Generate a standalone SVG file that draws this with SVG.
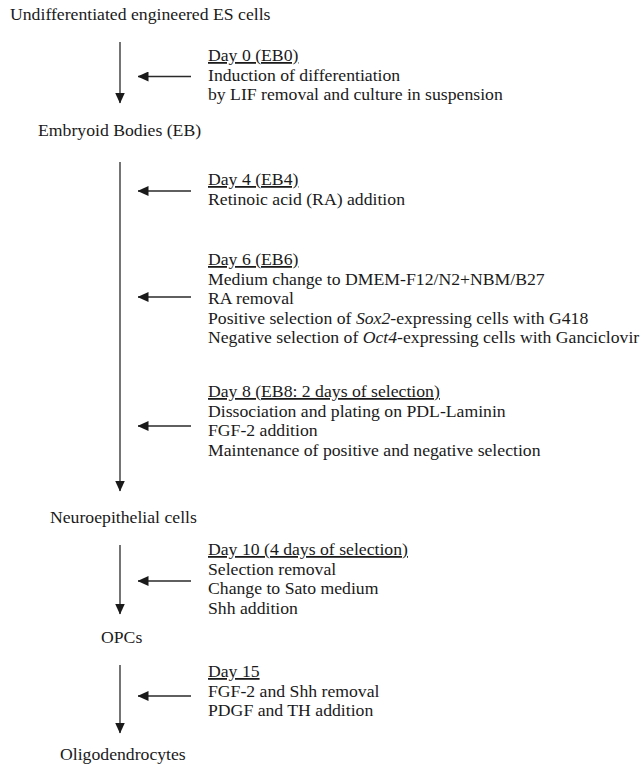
<svg xmlns="http://www.w3.org/2000/svg" width="644" height="765" viewBox="0 0 644 765">
<style>
text{font-family:"Liberation Serif","Times New Roman",serif;font-size:17.7px;fill:#1a1a1a}
.u{text-decoration:underline}
.i{font-style:italic}
.ln{stroke:#2a2a2a;stroke-width:1.3;fill:none}
</style>
<defs>
<marker id="ah" viewBox="0 0 11 10" refX="10.5" refY="5" markerWidth="11" markerHeight="10" markerUnits="userSpaceOnUse" orient="auto">
<path d="M0,0 L11,5 L0,10 Z" fill="#1a1a1a"/>
</marker>
</defs>
<rect width="644" height="765" fill="#ffffff"/>
<g id="stage-es"><text x="10" y="20">Undifferentiated engineered ES cells</text></g>
<g id="stage-eb"><text x="38" y="136">Embryoid Bodies (EB)</text></g>
<g id="stage-neuro"><text x="50" y="523">Neuroepithelial cells</text></g>
<g id="stage-opc"><text x="101" y="643">OPCs</text></g>
<g id="stage-oligo"><text x="60" y="760">Oligodendrocytes</text></g>
<g id="day0">
<text x="208" y="61" class="u">Day 0 (EB0)</text>
<text x="208" y="80.5">Induction of differentiation</text>
<text x="208" y="100">by LIF removal and culture in suspension</text>
</g>
<g id="day4">
<text x="208" y="185" class="u">Day 4 (EB4)</text>
<text x="208" y="204.5">Retinoic acid (RA) addition</text>
</g>
<g id="day6">
<text x="208" y="265" class="u">Day 6 (EB6)</text>
<text x="208" y="284.5">Medium change to DMEM-F12/N2+NBM/B27</text>
<text x="208" y="304">RA removal</text>
<text x="208" y="323.5">Positive selection of <tspan class="i">Sox2</tspan>-expressing cells with G418</text>
<text x="208" y="343">Negative selection of <tspan class="i">Oct4</tspan>-expressing cells with Ganciclovir</text>
</g>
<g id="day8">
<text x="208" y="397" class="u">Day 8 (EB8: 2 days of selection)</text>
<text x="208" y="416.5">Dissociation and plating on PDL-Laminin</text>
<text x="208" y="436">FGF-2 addition</text>
<text x="208" y="455.5">Maintenance of positive and negative selection</text>
</g>
<g id="day10">
<text x="208" y="555" class="u">Day 10 (4 days of selection)</text>
<text x="208" y="574.5">Selection removal</text>
<text x="208" y="594">Change to Sato medium</text>
<text x="208" y="613.5">Shh addition</text>
</g>
<g id="day15">
<text x="208" y="677" class="u">Day 15</text>
<text x="208" y="696.5">FGF-2 and Shh removal</text>
<text x="208" y="716">PDGF and TH addition</text>
</g>
<g id="connectors">
<line class="ln" x1="120" y1="42" x2="120" y2="103" marker-end="url(#ah)"/>
<line class="ln" x1="120" y1="162" x2="120" y2="491" marker-end="url(#ah)"/>
<line class="ln" x1="120" y1="545" x2="120" y2="614" marker-end="url(#ah)"/>
<line class="ln" x1="120" y1="665" x2="120" y2="733" marker-end="url(#ah)"/>
<line class="ln" x1="191" y1="76.5" x2="138" y2="76.5" marker-end="url(#ah)"/>
<line class="ln" x1="191" y1="191" x2="138" y2="191" marker-end="url(#ah)"/>
<line class="ln" x1="191" y1="297" x2="138" y2="297" marker-end="url(#ah)"/>
<line class="ln" x1="191" y1="426" x2="138" y2="426" marker-end="url(#ah)"/>
<line class="ln" x1="191" y1="581" x2="138" y2="581" marker-end="url(#ah)"/>
<line class="ln" x1="191" y1="696" x2="138" y2="696" marker-end="url(#ah)"/>
</g>
</svg>
